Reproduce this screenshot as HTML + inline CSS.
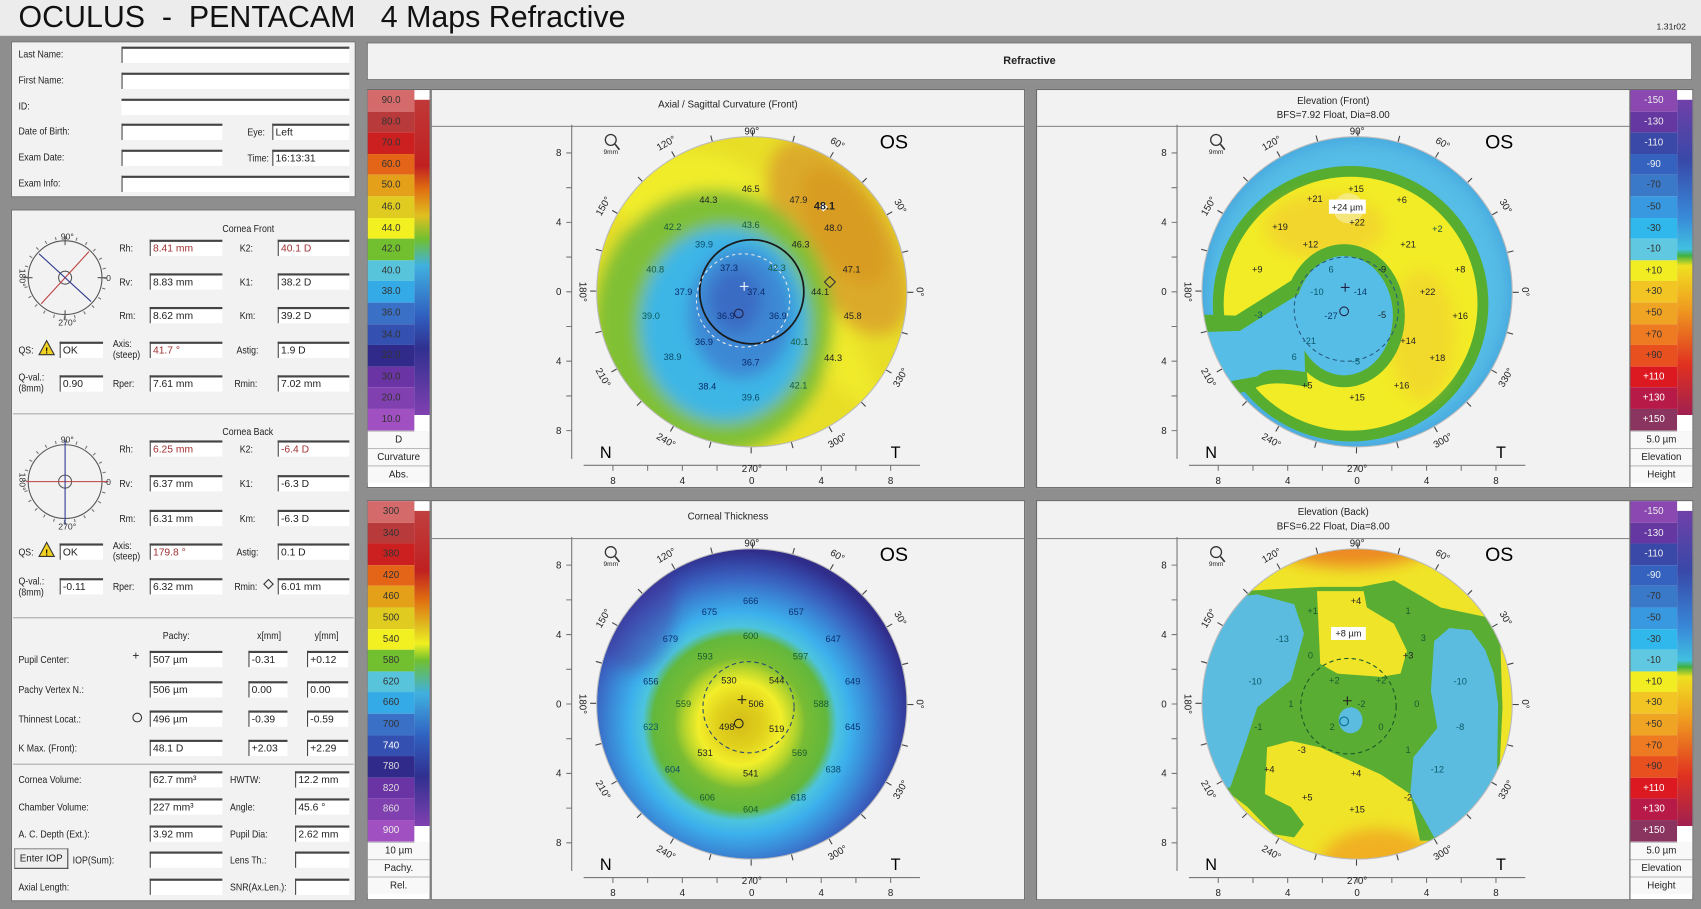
<!DOCTYPE html>
<html><head><meta charset="utf-8"><style>
*{margin:0;padding:0;box-sizing:border-box}
html,body{width:1701px;height:909px;overflow:hidden;background:#ececec}
#r{position:absolute;left:0;top:0;width:1568px;height:838px;transform:scale(1.08482,1.08473);transform-origin:0 0;background:#8e8e8e;font-family:"Liberation Sans",sans-serif;color:#222}
.a{position:absolute}
.p{position:absolute;background:#f2f2f2;border:1px solid #6a6a6a}
.l{position:absolute;font-size:9px;white-space:nowrap;transform:scaleX(.9);transform-origin:0 0}
.f{position:absolute;background:#fff;border-top:2px solid #444;border-left:1px solid #444;height:15px;font-size:9.5px;line-height:13px;padding-left:2px;white-space:nowrap}
.rd{color:#a03030}
.hr{position:absolute;height:1px;background:#aaa}
.cb{position:absolute;width:59px;border:1px solid #666;background:#fff}
.cb div.c{height:19.6px;font-size:9px;line-height:19.6px;text-align:center;width:43px;color:#333}
.cb .t{height:16px;border-top:1px solid #bbb;font-size:9px;line-height:15px;text-align:center;background:#f8f8f8}
.st{position:absolute;top:9px;width:14px;height:306px}
</style></head><body><div id="r">
<div class="a" style="left:0;top:0;width:1568px;height:33px;background:#ececec"></div>
<div class="a" style="left:17px;top:0px;font-size:28px;white-space:pre;color:#111">OCULUS  -  PENTACAM   4 Maps Refractive</div>
<div class="a" style="left:1527px;top:20px;font-size:8px">1.31r02</div>

<!-- patient panel -->
<div class="p" style="left:10px;top:38px;width:318px;height:144px"></div>
<div class="l" style="left:17px;top:45px">Last Name:</div>
<div class="l" style="left:17px;top:69px">First Name:</div>
<div class="l" style="left:17px;top:93px">ID:</div>
<div class="l" style="left:17px;top:116px">Date of Birth:</div>
<div class="l" style="left:17px;top:140px">Exam Date:</div>
<div class="l" style="left:17px;top:164px">Exam Info:</div>
<div class="f" style="left:112px;top:43px;width:210px"></div>
<div class="f" style="left:112px;top:67px;width:210px"></div>
<div class="f" style="left:112px;top:91px;width:210px;border-left:none"></div>
<div class="f" style="left:112px;top:114px;width:93px"></div>
<div class="f" style="left:112px;top:138px;width:93px"></div>
<div class="f" style="left:112px;top:162px;width:210px"></div>
<div class="l" style="left:228px;top:117px">Eye:</div>
<div class="l" style="left:228px;top:141px">Time:</div>
<div class="f" style="left:251px;top:114px;width:71px">Left</div>
<div class="f" style="left:251px;top:138px;width:71px">16:13:31</div>

<!-- data panel -->
<div class="p" style="left:10px;top:193px;width:318px;height:638px"></div>
<div class="l" style="left:205px;top:206px">Cornea Front</div>
<div class="l" style="left:110px;top:224px">Rh:</div><div class="f rd" style="left:138px;top:221px;width:67px">8.41 mm</div>
<div class="l" style="left:110px;top:255px">Rv:</div><div class="f" style="left:138px;top:252px;width:67px">8.83 mm</div>
<div class="l" style="left:110px;top:286px">Rm:</div><div class="f" style="left:138px;top:283px;width:67px">8.62 mm</div>
<div class="l" style="left:221px;top:224px">K2:</div><div class="f rd" style="left:256px;top:221px;width:66px">40.1 D</div>
<div class="l" style="left:221px;top:255px">K1:</div><div class="f" style="left:256px;top:252px;width:66px">38.2 D</div>
<div class="l" style="left:221px;top:286px">Km:</div><div class="f" style="left:256px;top:283px;width:66px">39.2 D</div>
<div class="l" style="left:17px;top:318px">QS:</div><div class="f" style="left:55px;top:315px;width:40px">OK</div>
<div class="l" style="left:104px;top:312px;line-height:10px">Axis:<br>(steep)</div><div class="f rd" style="left:138px;top:315px;width:67px">41.7 °</div>
<div class="l" style="left:218px;top:318px">Astig:</div><div class="f" style="left:256px;top:315px;width:66px">1.9 D</div>
<div class="l" style="left:17px;top:343px;line-height:10px">Q-val.:<br>(8mm)</div><div class="f" style="left:55px;top:346px;width:40px">0.90</div>
<div class="l" style="left:104px;top:349px">Rper:</div><div class="f" style="left:138px;top:346px;width:67px">7.61 mm</div>
<div class="l" style="left:216px;top:349px">Rmin:</div><div class="f" style="left:256px;top:346px;width:66px">7.02 mm</div>
<div class="hr" style="left:12px;top:381px;width:314px"></div>

<div class="l" style="left:205px;top:393px">Cornea Back</div>
<div class="l" style="left:110px;top:409px">Rh:</div><div class="f rd" style="left:138px;top:406px;width:67px">6.25 mm</div>
<div class="l" style="left:110px;top:441px">Rv:</div><div class="f" style="left:138px;top:438px;width:67px">6.37 mm</div>
<div class="l" style="left:110px;top:473px">Rm:</div><div class="f" style="left:138px;top:470px;width:67px">6.31 mm</div>
<div class="l" style="left:221px;top:409px">K2:</div><div class="f rd" style="left:256px;top:406px;width:66px">-6.4 D</div>
<div class="l" style="left:221px;top:441px">K1:</div><div class="f" style="left:256px;top:438px;width:66px">-6.3 D</div>
<div class="l" style="left:221px;top:473px">Km:</div><div class="f" style="left:256px;top:470px;width:66px">-6.3 D</div>
<div class="l" style="left:17px;top:504px">QS:</div><div class="f" style="left:55px;top:501px;width:40px">OK</div>
<div class="l" style="left:104px;top:498px;line-height:10px">Axis:<br>(steep)</div><div class="f rd" style="left:138px;top:501px;width:67px">179.8 °</div>
<div class="l" style="left:218px;top:504px">Astig:</div><div class="f" style="left:256px;top:501px;width:66px">0.1 D</div>
<div class="l" style="left:17px;top:531px;line-height:10px">Q-val.:<br>(8mm)</div><div class="f" style="left:55px;top:533px;width:40px">-0.11</div>
<div class="l" style="left:104px;top:536px">Rper:</div><div class="f" style="left:138px;top:533px;width:67px">6.32 mm</div>
<div class="l" style="left:216px;top:536px">Rmin:</div><div class="a" style="left:244px;top:535px;width:7px;height:7px;border:1px solid #333;transform:rotate(45deg)"></div><div class="f" style="left:256px;top:533px;width:66px">6.01 mm</div>
<div class="hr" style="left:12px;top:569px;width:314px"></div>

<div class="l" style="left:150px;top:581px">Pachy:</div>
<div class="l" style="left:237px;top:581px">x[mm]</div>
<div class="l" style="left:290px;top:581px">y[mm]</div>
<div class="l" style="left:17px;top:603px">Pupil Center:</div><div class="a" style="left:122px;top:599px;font-size:11px">+</div>
<div class="l" style="left:17px;top:631px">Pachy Vertex N.:</div>
<div class="l" style="left:17px;top:658px">Thinnest Locat.:</div><div class="a" style="left:122px;top:657px;width:9px;height:9px;border:1px solid #333;border-radius:50%"></div>
<div class="l" style="left:17px;top:685px">K Max. (Front):</div>
<div class="f" style="left:138px;top:600px;width:67px">507 µm</div><div class="f" style="left:229px;top:600px;width:36px">-0.31</div><div class="f" style="left:283px;top:600px;width:38px">+0.12</div>
<div class="f" style="left:138px;top:628px;width:67px">506 µm</div><div class="f" style="left:229px;top:628px;width:36px">0.00</div><div class="f" style="left:283px;top:628px;width:38px">0.00</div>
<div class="f" style="left:138px;top:655px;width:67px">496 µm</div><div class="f" style="left:229px;top:655px;width:36px">-0.39</div><div class="f" style="left:283px;top:655px;width:38px">-0.59</div>
<div class="f" style="left:138px;top:682px;width:67px">48.1 D</div><div class="f" style="left:229px;top:682px;width:36px">+2.03</div><div class="f" style="left:283px;top:682px;width:38px">+2.29</div>
<div class="hr" style="left:12px;top:704px;width:314px"></div>

<div class="l" style="left:17px;top:714px">Cornea Volume:</div><div class="f" style="left:138px;top:711px;width:67px">62.7 mm³</div>
<div class="l" style="left:212px;top:714px">HWTW:</div><div class="f" style="left:272px;top:711px;width:50px">12.2 mm</div>
<div class="l" style="left:17px;top:739px">Chamber Volume:</div><div class="f" style="left:138px;top:736px;width:67px">227 mm³</div>
<div class="l" style="left:212px;top:739px">Angle:</div><div class="f" style="left:272px;top:736px;width:50px">45.6 °</div>
<div class="l" style="left:17px;top:764px">A. C. Depth (Ext.):</div><div class="f" style="left:138px;top:761px;width:67px">3.92 mm</div>
<div class="l" style="left:212px;top:764px">Pupil Dia:</div><div class="f" style="left:272px;top:761px;width:50px">2.62 mm</div>
<div class="a" style="left:13px;top:782px;width:50px;height:19px;border:1px solid #888;border-right-color:#444;border-bottom-color:#444;background:#eee;font-size:9px;line-height:17px;text-align:center">Enter IOP</div>
<div class="l" style="left:67px;top:788px">IOP(Sum):</div><div class="f" style="left:138px;top:785px;width:67px"></div>
<div class="l" style="left:212px;top:788px">Lens Th.:</div><div class="f" style="left:272px;top:785px;width:50px"></div>
<div class="l" style="left:17px;top:813px">Axial Length:</div><div class="f" style="left:138px;top:810px;width:67px"></div>
<div class="l" style="left:212px;top:813px">SNR(Ax.Len.):</div><div class="f" style="left:272px;top:810px;width:50px"></div>

<!-- Refractive header -->
<div class="p" style="left:338px;top:39px;width:1222px;height:35px;font-size:10px;font-weight:bold;text-align:center;line-height:34px">Refractive</div>

<!-- map panels -->
<div class="p" style="left:397px;top:82px;width:548px;height:368px"></div>
<div class="p" style="left:955px;top:82px;width:548px;height:368px"></div>
<div class="p" style="left:397px;top:461px;width:548px;height:369px"></div>
<div class="p" style="left:955px;top:461px;width:548px;height:369px"></div>
<div class="hr" style="left:398px;top:116px;width:546px;background:#888"></div>
<div class="hr" style="left:956px;top:116px;width:546px;background:#888"></div>
<div class="hr" style="left:398px;top:496px;width:546px;background:#888"></div>
<div class="hr" style="left:956px;top:496px;width:546px;background:#888"></div>
<div class="a" style="left:397px;top:91px;width:548px;text-align:center;font-size:9px">Axial / Sagittal Curvature (Front)</div>
<div class="a" style="left:955px;top:87px;width:548px;text-align:center;font-size:9px;line-height:13px">Elevation (Front)<br>BFS=7.92 Float, Dia=8.00</div>
<div class="a" style="left:397px;top:471px;width:548px;text-align:center;font-size:9px">Corneal Thickness</div>
<div class="a" style="left:955px;top:466px;width:548px;text-align:center;font-size:9px;line-height:13px">Elevation (Back)<br>BFS=6.22 Float, Dia=8.00</div>

<!-- colorbars -->
<div class="cb" style="left:338px;top:82px;height:368px">
<div class="st" style="left:43px;background:linear-gradient(#c03838,#c02020 20%,#e07010 27%,#e0c020 35%,#70c030 42%,#40b0e0 50%,#3060c0 65%,#303090 75%,#8040b0 95%,#fff 95%)"></div>
<div class="c" style="background:#d46a6a">90.0</div><div class="c" style="background:#b83a3a">80.0</div><div class="c" style="background:#cc2020">70.0</div><div class="c" style="background:#e46518">60.0</div><div class="c" style="background:#e4a018">50.0</div><div class="c" style="background:#e0cc20">46.0</div><div class="c" style="background:#f2f020">44.0</div><div class="c" style="background:#72c030">42.0</div><div class="c" style="background:#58c4dc">40.0</div><div class="c" style="background:#34aae6">38.0</div><div class="c" style="background:#3a70c6">36.0</div><div class="c" style="background:#3450b0">34.0</div><div class="c" style="background:#302a8a">32.0</div><div class="c" style="background:#6a34a4">30.0</div><div class="c" style="background:#8040b0">20.0</div><div class="c" style="background:#a050c0">10.0</div>
<div class="t">D</div><div class="t">Curvature</div><div class="t">Abs.</div></div>

<div class="cb" style="left:338px;top:461px;height:369px">
<div class="st" style="left:43px;background:linear-gradient(#c04040,#c02020 18%,#e07010 27%,#e0c020 35%,#f0f020 40%,#70c030 45%,#40b0e0 55%,#3060c0 68%,#303090 80%,#8040b0 95%,#fff 95%)"></div>
<div class="c" style="background:#d46a6a">300</div><div class="c" style="background:#b83a3a">340</div><div class="c" style="background:#cc2020">380</div><div class="c" style="background:#e46518">420</div><div class="c" style="background:#e4a018">460</div><div class="c" style="background:#e0cc20">500</div><div class="c" style="background:#f2f020">540</div><div class="c" style="background:#72c030">580</div><div class="c" style="background:#58c4dc">620</div><div class="c" style="background:#34aae6">660</div><div class="c" style="background:#3a70c6">700</div><div class="c" style="background:#3450b0;color:#fff">740</div><div class="c" style="background:#302a8a;color:#ddd">780</div><div class="c" style="background:#6a34a4;color:#ddd">820</div><div class="c" style="background:#8040b0;color:#ddd">860</div><div class="c" style="background:#a050c0;color:#eee">900</div>
<div class="t">10 µm</div><div class="t">Pachy.</div><div class="t">Rel.</div></div>

<div class="cb" style="left:1502px;top:82px;height:368px">
<div class="st" style="left:43px;background:linear-gradient(#7040a8,#3848a8 18%,#3888d8 35%,#40c0e0 45%,#40b040 47%,#f0e020 50%,#f0a020 62%,#e03020 80%,#a02050 95%,#fff 95%)"></div>
<div class="c" style="background:#8a48b0;color:#eee">-150</div><div class="c" style="background:#6438a0;color:#eee">-130</div><div class="c" style="background:#3a48a8;color:#eee">-110</div><div class="c" style="background:#3462be;color:#eee">-90</div><div class="c" style="background:#3a78c8">-70</div><div class="c" style="background:#3898e0">-50</div><div class="c" style="background:#30b8ec">-30</div><div class="c" style="background:#60c8e0">-10</div><div class="c" style="background:#f2ec22">+10</div><div class="c" style="background:#f2c424">+30</div><div class="c" style="background:#f0a424">+50</div><div class="c" style="background:#ee7a22">+70</div><div class="c" style="background:#e85020">+90</div><div class="c" style="background:#dc1820;color:#fff">+110</div><div class="c" style="background:#b81a48;color:#fff">+130</div><div class="c" style="background:#8a3460;color:#fff">+150</div>
<div class="t">5.0 µm</div><div class="t">Elevation</div><div class="t">Height</div></div>

<div class="cb" style="left:1502px;top:461px;height:369px">
<div class="st" style="left:43px;background:linear-gradient(#7040a8,#3848a8 18%,#3888d8 35%,#40c0e0 45%,#40b040 47%,#f0e020 50%,#f0a020 62%,#e03020 80%,#a02050 95%,#fff 95%)"></div>
<div class="c" style="background:#8a48b0;color:#eee">-150</div><div class="c" style="background:#6438a0;color:#eee">-130</div><div class="c" style="background:#3a48a8;color:#eee">-110</div><div class="c" style="background:#3462be;color:#eee">-90</div><div class="c" style="background:#3a78c8">-70</div><div class="c" style="background:#3898e0">-50</div><div class="c" style="background:#30b8ec">-30</div><div class="c" style="background:#60c8e0">-10</div><div class="c" style="background:#f2ec22">+10</div><div class="c" style="background:#f2c424">+30</div><div class="c" style="background:#f0a424">+50</div><div class="c" style="background:#ee7a22">+70</div><div class="c" style="background:#e85020">+90</div><div class="c" style="background:#dc1820;color:#fff">+110</div><div class="c" style="background:#b81a48;color:#fff">+130</div><div class="c" style="background:#8a3460;color:#fff">+150</div>
<div class="t">5.0 µm</div><div class="t">Elevation</div><div class="t">Height</div></div>

<svg class="a" style="left:0;top:0" width="1568" height="838" viewBox="0 0 1568 838" font-family="Liberation Sans, sans-serif">
<defs>
<clipPath id="cc"><circle cx="0" cy="0" r="143"/></clipPath>
<filter id="bl" x="-50%" y="-50%" width="200%" height="200%"><feGaussianBlur stdDeviation="7"/></filter>
<radialGradient id="th" cx="-11" cy="18" r="160" gradientUnits="userSpaceOnUse">
<stop offset="0" stop-color="#d2bc18"/><stop offset=".13" stop-color="#e0d01c"/><stop offset=".24" stop-color="#f2ee2a"/><stop offset=".32" stop-color="#b4d42c"/><stop offset=".38" stop-color="#78bc34"/><stop offset=".5" stop-color="#62b83c"/><stop offset=".56" stop-color="#4cc4de"/><stop offset=".64" stop-color="#3cb0ec"/><stop offset=".74" stop-color="#3a8cd8"/><stop offset=".84" stop-color="#3a64c2"/><stop offset=".93" stop-color="#3444a4"/><stop offset="1" stop-color="#302c8a"/></radialGradient>
<g id="ax" stroke="#777" stroke-width="1" fill="none">
<line x1="-166" y1="-154" x2="-166" y2="154"/>
<path d="M-171 -128H-166M-171 -96H-166M-171 -64H-166M-171 -32H-166M-171 0H-166M-171 32H-166M-171 64H-166M-171 96H-166M-171 128H-166"/>
<line x1="-155" y1="160" x2="155" y2="160"/>
<path d="M-128 160V165M-96 160V165M-64 160V165M-32 160V165M0 160V165M32 160V165M64 160V165M96 160V165M128 160V165"/>
<circle r="146" stroke="#444" stroke-width="6" stroke-dasharray="1 37.22"/>
<circle r="143" stroke="#bbb" stroke-width="1"/>
<circle cx="-130" cy="-140" r="5" stroke="#333" stroke-width="1.2"/><line x1="-126" y1="-136" x2="-122" y2="-131" stroke="#333" stroke-width="1.5"/>
</g>
</defs>

<!-- MAP 1 -->
<g transform="translate(693,269)">
<g clip-path="url(#cc)">
<rect x="-150" y="-150" width="300" height="300" fill="#e8de28"/>
<g filter="url(#bl)">
<ellipse cx="-60" cy="-90" rx="70" ry="40" fill="#f0ec2c"/>
<ellipse cx="80" cy="-50" rx="48" ry="100" transform="rotate(-30 80 -50)" fill="#dcaa2a"/>
<ellipse cx="85" cy="-60" rx="30" ry="60" transform="rotate(-30 85 -60)" fill="#d89c20"/>
<ellipse cx="60" cy="30" rx="22" ry="90" transform="rotate(-35 60 30)" fill="#f0ea2c"/>
<ellipse cx="-35" cy="28" rx="110" ry="122" fill="#80c034"/>
<ellipse cx="-25" cy="30" rx="78" ry="90" fill="#3cb6e6"/>
<ellipse cx="-10" cy="20" rx="48" ry="60" fill="#3c88d4"/>
<ellipse cx="-15" cy="8" rx="24" ry="30" fill="#3a6cc4"/>
</g></g>
<use href="#ax"/>
<circle cx="0" cy="0" r="48" fill="none" stroke="#1a1a1a" stroke-width="1.6"/>
<circle cx="-8" cy="8" r="43" fill="none" stroke="#e8e8e8" stroke-width="1" stroke-dasharray="3 3"/>
<path d="M-11 -5h8M-7 -9v8" stroke="#fff" stroke-width="1"/>
<circle cx="-12" cy="20" r="4" fill="none" stroke="#224" stroke-width="1"/>
<path d="M72 -14l5 5-5 5-5-5z" fill="none" stroke="#333"/>
<path d="M66 -82l4 4-4 4-4-4z" fill="#fff"/>
<g font-size="9" text-anchor="middle" fill="#222">
<text x="0" y="-145">90°</text><text x="0" y="166">270°</text>
<text transform="translate(155,0) rotate(90)" y="3">0°</text><text transform="translate(-156,0) rotate(90)" y="3">180°</text>
<text transform="translate(79,-137) rotate(30)" y="3">60°</text><text transform="translate(-79,-137) rotate(-30)" y="3">120°</text>
<text transform="translate(-137,-79) rotate(-60)" y="3">150°</text><text transform="translate(137,-79) rotate(60)" y="3">30°</text>
<text transform="translate(-137,79) rotate(60)" y="3">210°</text><text transform="translate(-79,137) rotate(30)" y="3">240°</text>
<text transform="translate(79,137) rotate(-30)" y="3">300°</text><text transform="translate(137,79) rotate(-60)" y="3">330°</text>
<text x="-178" y="-125">8</text><text x="-178" y="-61">4</text><text x="-178" y="3">0</text><text x="-178" y="67">4</text><text x="-178" y="131">8</text>
<text x="-128" y="177">8</text><text x="-64" y="177">4</text><text x="0" y="177">0</text><text x="64" y="177">4</text><text x="128" y="177">8</text>
<text x="-130" y="-127" font-size="6">9mm</text>
</g>
<text x="118" y="-132" font-size="18">OS</text>
<text x="-140" y="153" font-size="15">N</text><text x="128" y="153" font-size="15">T</text>
</g>
<g font-size="8.5" text-anchor="middle" fill="#222">
<text x="653" y="187">44.3</text><text x="692" y="177">46.5</text><text x="736" y="187">47.9</text><text x="760" y="193" font-weight="bold" font-size="10">48.1</text>
<text x="620" y="212" fill="#185a40">42.2</text><text x="692" y="210" fill="#185a40">43.6</text><text x="768" y="213">48.0</text>
<text x="649" y="228" fill="#0a4a6a">39.9</text><text x="738" y="228">46.3</text>
<text x="604" y="251" fill="#185a40">40.8</text><text x="672" y="250" fill="#0a2a6a">37.3</text><text x="716" y="250" fill="#185a40">42.3</text><text x="785" y="251">47.1</text>
<text x="630" y="272" fill="#0a2a6a">37.9</text><text x="697" y="272" fill="#0a2a6a">37.4</text><text x="756" y="272">44.1</text>
<text x="600" y="294" fill="#0a5a5a">39.0</text><text x="669" y="294" fill="#0a2a6a">36.9</text><text x="717" y="294" fill="#0a2a6a">36.9</text><text x="786" y="294">45.8</text>
<text x="649" y="318" fill="#0a2a6a">36.9</text><text x="737" y="318" fill="#185a40">40.1</text>
<text x="620" y="332" fill="#0a4a6a">38.9</text><text x="692" y="337" fill="#0a2a6a">36.7</text><text x="768" y="333">44.3</text>
<text x="652" y="359" fill="#0a2a6a">38.4</text><text x="736" y="358" fill="#185a40">42.1</text><text x="692" y="369" fill="#0a4a6a">39.6</text>
</g>

<!-- MAP 2 -->
<g transform="translate(1251,269)">
<g clip-path="url(#cc)">
<rect x="-150" y="-150" width="300" height="300" fill="#56bde6"/>
<circle r="150" fill="none" stroke="#3a96d8" stroke-width="22" opacity=".6" filter="url(#bl)"/>
<circle cx="-6" cy="11" r="127" fill="#56ad30"/>
<circle cx="-6" cy="11" r="117" fill="#f2ec26"/>
<ellipse cx="-30" cy="-60" rx="55" ry="30" fill="#f2c830" opacity=".6" filter="url(#bl)"/>
<ellipse cx="60" cy="40" rx="30" ry="60" fill="#f2c830" opacity=".5" filter="url(#bl)"/>
<ellipse cx="-12" cy="22" rx="56" ry="66" fill="#56ad30"/>
<path d="M-170 20L-112 22Q-85 5-55 -14L-45 88Q-82 80-96 90L-170 110Z" fill="#56ad30"/>
<ellipse cx="-12" cy="22" rx="45" ry="55" fill="#56bde6"/>
<path d="M-170 38L-108 36Q-80 18-50 0L-48 74Q-84 68-92 78L-170 92Z" fill="#56bde6"/>
</g>
<use href="#ax"/>
<circle cx="-10" cy="16" r="48" fill="none" stroke="#2a5a80" stroke-width="1" stroke-dasharray="4 3"/>
<path d="M-15 -4h8M-11 -8v8" stroke="#224" stroke-width="1"/>
<circle cx="-12" cy="18" r="4" fill="none" stroke="#224" stroke-width="1"/>
<circle cx="-8" cy="-77" r="14" fill="#f6f0b0" opacity=".6"/>
<g font-size="9" text-anchor="middle" fill="#222">
<text x="0" y="-145">90°</text><text x="0" y="166">270°</text>
<text transform="translate(155,0) rotate(90)" y="3">0°</text><text transform="translate(-156,0) rotate(90)" y="3">180°</text>
<text transform="translate(79,-137) rotate(30)" y="3">60°</text><text transform="translate(-79,-137) rotate(-30)" y="3">120°</text>
<text transform="translate(-137,-79) rotate(-60)" y="3">150°</text><text transform="translate(137,-79) rotate(60)" y="3">30°</text>
<text transform="translate(-137,79) rotate(60)" y="3">210°</text><text transform="translate(-79,137) rotate(30)" y="3">240°</text>
<text transform="translate(79,137) rotate(-30)" y="3">300°</text><text transform="translate(137,79) rotate(-60)" y="3">330°</text>
<text x="-178" y="-125">8</text><text x="-178" y="-61">4</text><text x="-178" y="3">0</text><text x="-178" y="67">4</text><text x="-178" y="131">8</text>
<text x="-128" y="177">8</text><text x="-64" y="177">4</text><text x="0" y="177">0</text><text x="64" y="177">4</text><text x="128" y="177">8</text>
<text x="-130" y="-127" font-size="6">9mm</text>
</g>
<text x="118" y="-132" font-size="18">OS</text>
<text x="-140" y="153" font-size="15">N</text><text x="128" y="153" font-size="15">T</text>
</g>
<rect x="1225" y="184" width="34" height="13" fill="#fff"/>
<g font-size="8.5" text-anchor="middle" fill="#222">
<text x="1250" y="177">+15</text><text x="1212" y="186">+21</text><text x="1292" y="187">+6</text><text x="1242" y="194">+24 µm</text>
<text x="1251" y="208">+22</text><text x="1180" y="212">+19</text><text x="1325" y="214" fill="#185a40">+2</text>
<text x="1208" y="228">+12</text><text x="1298" y="228">+21</text>
<text x="1159" y="251">+9</text><text x="1227" y="251" fill="#0a5a6a">6</text><text x="1274" y="251">-9</text><text x="1346" y="251">+8</text>
<text x="1214" y="272" fill="#0a5a6a">-10</text><text x="1254" y="272" fill="#0a3a6a">-14</text><text x="1316" y="272">+22</text>
<text x="1160" y="293" fill="#0a5a6a">-3</text><text x="1227" y="294" fill="#0a3a6a">-27</text><text x="1274" y="293">-5</text><text x="1346" y="294">+16</text>
<text x="1207" y="317" fill="#0a5a6a">-21</text><text x="1298" y="317">+14</text>
<text x="1193" y="332" fill="#0a5a6a">6</text><text x="1250" y="336" fill="#0a5a6a">-5</text><text x="1325" y="333">+18</text>
<text x="1205" y="358">+5</text><text x="1292" y="358">+16</text><text x="1251" y="369">+15</text>
</g>

<!-- MAP 3 -->
<g transform="translate(693,649)">
<g clip-path="url(#cc)"><rect x="-150" y="-150" width="300" height="300" fill="url(#th)"/>
<ellipse cx="-110" cy="-90" rx="40" ry="60" fill="#4a2c90" opacity=".35" filter="url(#bl)"/></g>
<use href="#ax"/>
<circle cx="-3" cy="3" r="42" fill="none" stroke="#2a4a70" stroke-width="1" stroke-dasharray="4 3"/>
<path d="M-13 -4h8M-9 -8v8" stroke="#222" stroke-width="1"/>
<circle cx="-12" cy="18" r="4" fill="none" stroke="#222" stroke-width="1"/>
<g font-size="9" text-anchor="middle" fill="#222">
<text x="0" y="-145">90°</text><text x="0" y="166">270°</text>
<text transform="translate(155,0) rotate(90)" y="3">0°</text><text transform="translate(-156,0) rotate(90)" y="3">180°</text>
<text transform="translate(79,-137) rotate(30)" y="3">60°</text><text transform="translate(-79,-137) rotate(-30)" y="3">120°</text>
<text transform="translate(-137,-79) rotate(-60)" y="3">150°</text><text transform="translate(137,-79) rotate(60)" y="3">30°</text>
<text transform="translate(-137,79) rotate(60)" y="3">210°</text><text transform="translate(-79,137) rotate(30)" y="3">240°</text>
<text transform="translate(79,137) rotate(-30)" y="3">300°</text><text transform="translate(137,79) rotate(-60)" y="3">330°</text>
<text x="-178" y="-125">8</text><text x="-178" y="-61">4</text><text x="-178" y="3">0</text><text x="-178" y="67">4</text><text x="-178" y="131">8</text>
<text x="-128" y="177">8</text><text x="-64" y="177">4</text><text x="0" y="177">0</text><text x="64" y="177">4</text><text x="128" y="177">8</text>
<text x="-130" y="-127" font-size="6">9mm</text>
</g>
<text x="118" y="-132" font-size="18">OS</text>
<text x="-140" y="153" font-size="15">N</text><text x="128" y="153" font-size="15">T</text>
</g>
<g font-size="8.5" text-anchor="middle" fill="#0a3070">
<text x="692" y="557">666</text><text x="654" y="567">675</text><text x="734" y="567">657</text>
<text x="618" y="592">679</text><text x="692" y="589" fill="#185a30">600</text><text x="768" y="592">647</text>
<text x="650" y="608" fill="#185a30">593</text><text x="738" y="608" fill="#185a30">597</text>
<text x="672" y="630" fill="#222">530</text><text x="716" y="630" fill="#222">544</text><text x="600" y="631">656</text><text x="786" y="631">649</text>
<text x="630" y="652" fill="#185a30">559</text><text x="697" y="652" fill="#222">506</text><text x="757" y="652" fill="#185a30">588</text>
<text x="600" y="673" fill="#0a5a6a">623</text><text x="670" y="673" fill="#222">498</text><text x="716" y="675" fill="#222">519</text><text x="786" y="673">645</text>
<text x="650" y="697" fill="#222">531</text><text x="737" y="697" fill="#185a30">569</text>
<text x="692" y="716" fill="#222">541</text><text x="620" y="712" fill="#0a4a6a">604</text><text x="768" y="712" fill="#0a4a6a">638</text>
<text x="652" y="738" fill="#185a30">606</text><text x="736" y="738" fill="#0a4a6a">618</text><text x="692" y="749" fill="#185a30">604</text>
</g>

<!-- MAP 4 -->
<g transform="translate(1251,649)">
<g clip-path="url(#cc)">
<rect x="-150" y="-150" width="300" height="300" fill="#f0e428"/>
<ellipse cx="-5" cy="-150" rx="75" ry="24" fill="#ec8a22" filter="url(#bl)"/>
<ellipse cx="20" cy="150" rx="55" ry="35" fill="#f0b024" filter="url(#bl)"/>
<path d="M-108 -104L-34 -108L3 -108L34 -114L77 -89L120 -80L132 -58L134 3L131 65L114 83L74 126L58 126L49 83L22 65L-34 40L-61 34L-83 40L-85 83L-61 95L-49 111L-58 123L-77 120L-101 95L-117 83L-144 34L-144 -58Z" fill="#58ad32"/>
<path d="M-37 -104L6 -104L9 -89L34 -74L46 -49L40 -28L22 -25L-18 -28L-34 -37Z" fill="#f0e428"/>
<path d="M-160 -98L-117 -98L-92 -101L-58 -92L-49 -65L-61 -22L-92 3L-104 40L-117 77L-160 77Z" fill="#5cbce0"/>
<path d="M71 -58L85 -70L105 -68L118 -50L126 -28L130 0L129 61L118 90L95 112L71 123L49 83L52 49L74 22L68 -12Z" fill="#5cbce0"/>
<ellipse cx="-6" cy="15" rx="11" ry="12" fill="#5cbce0"/>
</g>
<use href="#ax"/>
<circle cx="-8" cy="2" r="44" fill="none" stroke="#1a5a2a" stroke-width="1" stroke-dasharray="4 3"/>
<path d="M-13 -3h8M-9 -7v8" stroke="#222" stroke-width="1"/>
<circle cx="-12" cy="16" r="4" fill="none" stroke="#0a6a8a" stroke-width="1"/>
<rect x="-24" y="-71" width="32" height="12" fill="#fff"/>
<g font-size="9" text-anchor="middle" fill="#222">
<text x="0" y="-145">90°</text><text x="0" y="166">270°</text>
<text transform="translate(155,0) rotate(90)" y="3">0°</text><text transform="translate(-156,0) rotate(90)" y="3">180°</text>
<text transform="translate(79,-137) rotate(30)" y="3">60°</text><text transform="translate(-79,-137) rotate(-30)" y="3">120°</text>
<text transform="translate(-137,-79) rotate(-60)" y="3">150°</text><text transform="translate(137,-79) rotate(60)" y="3">30°</text>
<text transform="translate(-137,79) rotate(60)" y="3">210°</text><text transform="translate(-79,137) rotate(30)" y="3">240°</text>
<text transform="translate(79,137) rotate(-30)" y="3">300°</text><text transform="translate(137,79) rotate(-60)" y="3">330°</text>
<text x="-178" y="-125">8</text><text x="-178" y="-61">4</text><text x="-178" y="3">0</text><text x="-178" y="67">4</text><text x="-178" y="131">8</text>
<text x="-128" y="177">8</text><text x="-64" y="177">4</text><text x="0" y="177">0</text><text x="64" y="177">4</text><text x="128" y="177">8</text>
<text x="-130" y="-127" font-size="6">9mm</text>
</g>
<text x="118" y="-132" font-size="18">OS</text>
<text x="-140" y="153" font-size="15">N</text><text x="128" y="153" font-size="15">T</text>
</g>
<g font-size="8.5" text-anchor="middle" fill="#222">
<text x="1250" y="557">+4</text><text x="1243" y="587">+8 µm</text>
<text x="1182" y="592" fill="#0a5a6a">-13</text><text x="1210" y="566" fill="#185a30">+1</text><text x="1298" y="566" fill="#185a30">1</text>
<text x="1208" y="607" fill="#185a30">0</text><text x="1298" y="607">+3</text><text x="1312" y="591" fill="#185a30">3</text>
<text x="1157" y="631" fill="#0a5a6a">-10</text><text x="1230" y="630" fill="#185a30">+2</text><text x="1273" y="630" fill="#185a30">+2</text><text x="1346" y="631" fill="#0a5a6a">-10</text>
<text x="1190" y="652" fill="#185a30">1</text><text x="1255" y="652" fill="#185a30">-2</text><text x="1306" y="652" fill="#185a30">0</text>
<text x="1160" y="673" fill="#185a30">-1</text><text x="1228" y="673" fill="#185a30">2</text><text x="1273" y="673" fill="#185a30">0</text><text x="1346" y="673" fill="#0a5a6a">-8</text>
<text x="1200" y="694">-3</text><text x="1298" y="694" fill="#185a30">1</text>
<text x="1170" y="712">+4</text><text x="1325" y="712" fill="#0a5a6a">-12</text><text x="1250" y="716">+4</text>
<text x="1205" y="738">+5</text><text x="1298" y="738">-2</text><text x="1251" y="749">+15</text>
</g>

<!-- compass diagrams -->
<g fill="none" stroke="#555" stroke-width="1">
<circle cx="60" cy="256" r="34"/><circle cx="60" cy="256" r="6"/>
<circle cx="60" cy="256" r="37" stroke="#777" stroke-dasharray="1 8.7" stroke-width="3"/>
<line x1="82" y1="232" x2="38" y2="280" stroke="#c04040"/><line x1="36" y1="234" x2="84" y2="278" stroke="#303a90"/>
<path d="M60 218v8M60 286v8M22 256h8M90 256h8"/>
<circle cx="60" cy="444" r="34"/><circle cx="60" cy="444" r="6"/>
<circle cx="60" cy="444" r="37" stroke="#777" stroke-dasharray="1 8.7" stroke-width="3"/>
<line x1="24" y1="444" x2="100" y2="444" stroke="#c04040"/><line x1="60" y1="406" x2="60" y2="484" stroke="#303a90"/>
</g>
<g font-size="8" fill="#333" text-anchor="middle">
<text x="62" y="221">90°</text><text x="62" y="300">270°</text><text transform="translate(18,256) rotate(90)">180°</text><text x="100" y="259">0</text>
<text x="62" y="408">90°</text><text x="62" y="488">270°</text><text transform="translate(18,444) rotate(90)">180°</text><text x="100" y="447">0</text>
</g>
<g><path d="M43 314L50 327H36Z" fill="#f0d020" stroke="#333"/><text x="43" y="326" font-size="8" text-anchor="middle" font-weight="bold">!</text>
<path d="M43 500L50 513H36Z" fill="#f0d020" stroke="#333"/><text x="43" y="512" font-size="8" text-anchor="middle" font-weight="bold">!</text></g>
</svg>
</div></body></html>
